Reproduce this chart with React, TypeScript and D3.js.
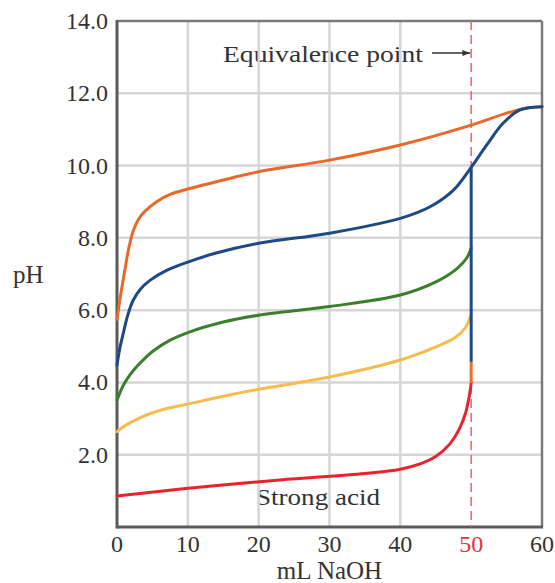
import * as d3 from "d3";

// titration curves, mL NaOH vs pH
const orangeCurve: [number, number][] = [
  [0, 5.75], [0.5, 6.4], [1.1, 7.1], [1.7, 7.75], [2.3, 8.2], [3.0, 8.5], [3.7, 8.69],
  [5.6, 9.0], [7.5, 9.2], [10, 9.35], [15, 9.6], [20, 9.83], [30, 10.15], [40, 10.57],
  [50, 11.12], [55, 11.45], [58, 11.6], [60, 11.63],
];
const blueCurve: [number, number][] = [
  [0, 4.48], [0.4, 4.95], [0.9, 5.37], [1.5, 5.85], [2.3, 6.28], [3.3, 6.58], [4.7, 6.83],
  [7, 7.1], [10, 7.33], [14, 7.58], [20, 7.85], [30, 8.13], [40, 8.54], [44.2, 8.86],
  [47.5, 9.32], [50, 9.95], [52.2, 10.57], [54.5, 11.17], [56.9, 11.54], [60, 11.63],
];
const greenCurve: [number, number][] = [
  [0, 3.51], [0.9, 3.92], [1.8, 4.2], [2.8, 4.44], [4, 4.68], [5.1, 4.87],
  [7.5, 5.17], [10, 5.38], [15, 5.67], [20, 5.86], [30, 6.1], [40, 6.42], [45.1, 6.79],
  [48, 7.15], [49.4, 7.45], [50, 7.72],
];
const yellowCurve: [number, number][] = [
  [0, 2.64], [0.8, 2.76], [1.8, 2.88], [3, 3.0], [4.7, 3.14], [7, 3.28], [10, 3.4],
  [15, 3.62], [20, 3.81], [30, 4.15], [40, 4.62], [45.1, 4.99], [47.8, 5.25],
  [49.2, 5.52], [50, 5.87],
];
const redCurve: [number, number][] = [
  [0, 0.86], [10, 1.07], [23, 1.3], [35, 1.48], [40, 1.6], [43, 1.76], [45, 1.95],
  [47, 2.3], [48.3, 2.7], [49.2, 3.15], [49.8, 3.7], [50, 3.98],
];
// vertical jump at the equivalence point
const jumpLevels = [3.98, 4.57, 9.95];
const equivalenceVolume = 50;

const xTicks = [0, 10, 20, 30, 40, 50, 60];
const yTicks = [2, 4, 6, 8, 10, 12, 14];

const W = 555;
const H = 583;
const margin = { top: 21, right: 13, bottom: 56, left: 117 };
const FONT = "'Liberation Serif', serif";

export default function App() {
  const x = d3.scaleLinear().domain([0, 60]).range([margin.left, W - margin.right]);
  const y = d3.scaleLinear().domain([0, 14]).range([H - margin.bottom, margin.top]);
  const line = d3
    .line<[number, number]>()
    .x((d) => x(d[0]))
    .y((d) => y(d[1]))
    .curve(d3.curveCatmullRom.alpha(0.5));

  const series = [
    { data: orangeCurve, color: "#e8692a" },
    { data: redCurve, color: "#e8232b" },
    { data: yellowCurve, color: "#f7bc4d" },
    { data: greenCurve, color: "#3b7f2d" },
    { data: blueCurve, color: "#1d4a84" },
  ];
  const jumpColors = ["#e8702a", "#1d4a84"];

  const x0 = x(0), x1 = x(60), y0 = y(0), y1 = y(14);

  return (
    <svg width={W} height={H} style={{ position: "absolute", left: 0, top: 0, background: "#fff" }}>
      <defs>
        <marker id="arr" viewBox="0 0 10 10" refX="10" refY="5" markerWidth="6" markerHeight="6" orient="auto">
          <path d="M0,1 L10,5 L0,9 z" fill="#333" />
        </marker>
      </defs>

      {/* annotations (grid drawn over them) */}
      <text x={223} y={62} fontFamily={FONT} fontSize={24} fill="#333" textLength={200} lengthAdjust="spacingAndGlyphs">
        Equivalence point
      </text>
      <line x1={432} x2={x(equivalenceVolume) - 1} y1={53} y2={53} stroke="#333" strokeWidth={1.3} markerEnd="url(#arr)" />
      <text x={256} y={505} fontFamily={FONT} fontSize={24} fill="#333" textLength={124} lengthAdjust="spacingAndGlyphs">
        Strong acid
      </text>

      {/* grid */}
      {xTicks.filter((t) => t > 0 && t < 60 && t !== equivalenceVolume).map((t) => (
        <line key={"gx" + t} x1={x(t)} x2={x(t)} y1={y1} y2={y0} stroke="#d6d6d6" strokeWidth={2.5} />
      ))}
      {yTicks.filter((t) => t < 14).map((t) => (
        <line key={"gy" + t} x1={x0} x2={x1} y1={y(t)} y2={y(t)} stroke="#d6d6d6" strokeWidth={2.5} />
      ))}

      {/* frame */}
      <line x1={x0} x2={x1} y1={y1} y2={y1} stroke="#7a7a7a" strokeWidth={2.5} />
      <line x1={x1} x2={x1} y1={y1} y2={y0} stroke="#7a7a7a" strokeWidth={2.5} />
      <line x1={x0} x2={x0} y1={y1 - 1} y2={y0 + 1.5} stroke="#5a5a5a" strokeWidth={3} />
      <line x1={x0} x2={x1 + 1} y1={y0} y2={y0} stroke="#5a5a5a" strokeWidth={3} />

      {/* equivalence point marker */}
      <line x1={x(equivalenceVolume)} x2={x(equivalenceVolume)} y1={y1} y2={y0} stroke="#f0606e" strokeWidth={1.5} strokeDasharray="9,5" />

      {/* curves */}
      {series.map((s, i) => (
        <path key={i} d={line(s.data) ?? ""} fill="none" stroke={s.color} strokeWidth={3} strokeLinecap="round" />
      ))}
      {jumpLevels.slice(1).map((lv, i) => (
        <line key={"j" + i} x1={x(equivalenceVolume)} x2={x(equivalenceVolume)} y1={y(jumpLevels[i])} y2={y(lv)} stroke={jumpColors[i]} strokeWidth={3} />
      ))}

      {/* tick labels */}
      {yTicks.map((t) => (
        <text key={"ty" + t} x={x0 - 9} y={y(t) + 8} textAnchor="end" fontFamily={FONT} fontSize={24} fill="#333">
          {t.toFixed(1)}
        </text>
      ))}
      {xTicks.map((t) => (
        <text key={"tx" + t} x={x(t)} y={552} textAnchor="middle" fontFamily={FONT} fontSize={24} fill={t === equivalenceVolume ? "#e8303a" : "#333"}>
          {t}
        </text>
      ))}

      {/* axis titles */}
      <text x={13} y={283} fontFamily={FONT} fontSize={25} fill="#333">pH</text>
      <text x={(x0 + x1) / 2} y={579} textAnchor="middle" fontFamily={FONT} fontSize={25} fill="#333">mL NaOH</text>
    </svg>
  );
}
